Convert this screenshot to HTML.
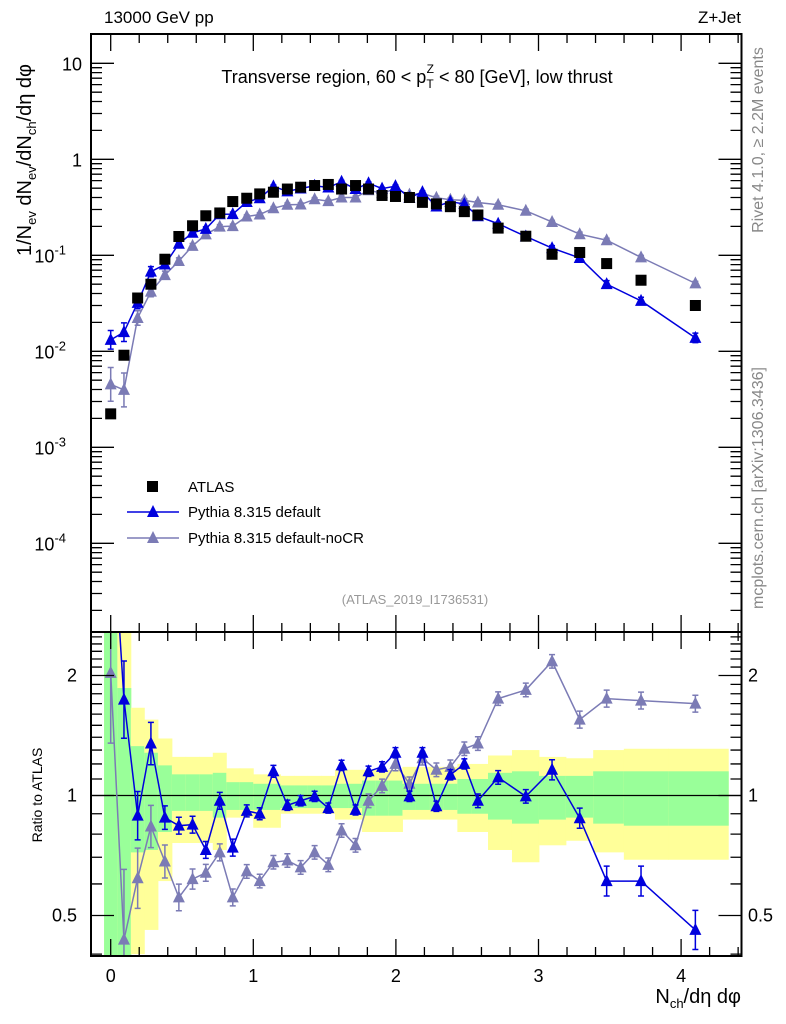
<!DOCTYPE html>
<html><head><meta charset="utf-8"><style>
html,body{margin:0;padding:0;background:#fff;}
svg{display:block;font-family:"Liberation Sans",Arial,sans-serif;}
</style></head><body>
<svg id="chart" width="786" height="1024" viewBox="0 0 786 1024" xmlns="http://www.w3.org/2000/svg">
<defs>
<clipPath id="clipMain"><rect x="91" y="34" width="651" height="598"/></clipPath>
<clipPath id="clipRatio"><rect x="91" y="632" width="651" height="324"/></clipPath>
</defs>
<g id="bands" clip-path="url(#clipRatio)"></g>
<g id="ratioLines" clip-path="url(#clipRatio)"></g>
<g id="mainLines" clip-path="url(#clipMain)"></g>
<g id="axes"></g>
<text x="104" y="23" font-size="17">13000 GeV pp</text>
<text x="741" y="23" font-size="17" text-anchor="end">Z+Jet</text>
<text x="417" y="83" font-size="18" text-anchor="middle">Transverse region, 60 &lt; p<tspan font-size="12" dy="5">T</tspan><tspan font-size="12" dx="-7" dy="-15">Z</tspan><tspan dy="10"> &lt; 80 [GeV], low thrust</tspan></text>
<text transform="translate(31,160) rotate(-90)" font-size="20" text-anchor="middle">1/N<tspan font-size="13" dy="5">ev</tspan><tspan dy="-5"> dN</tspan><tspan font-size="13" dy="5">ev</tspan><tspan dy="-5">/dN</tspan><tspan font-size="13" dy="5">ch</tspan><tspan dy="-5">/dη dφ</tspan></text>
<text transform="translate(42,795) rotate(-90)" font-size="14" text-anchor="middle">Ratio to ATLAS</text>
<text x="741" y="1003" font-size="20" text-anchor="end">N<tspan font-size="13" dy="5">ch</tspan><tspan dy="-5">/dη dφ</tspan></text>
<text transform="translate(763,140) rotate(-90)" font-size="16" fill="#888" text-anchor="middle">Rivet 4.1.0, ≥ 2.2M events</text>
<text transform="translate(763,488) rotate(-90)" font-size="16" fill="#888" text-anchor="middle">mcplots.cern.ch [arXiv:1306.3436]</text>
<text x="415" y="604" font-size="13" fill="#999" text-anchor="middle">(ATLAS_2019_I1736531)</text>
<g>
<rect x="147" y="481" width="11" height="11" fill="#000"/>
<text x="188" y="492" font-size="15">ATLAS</text>
<line x1="127" y1="512" x2="179" y2="512" stroke="#0000dd" stroke-width="1.5"/>
<polygon points="153,505 147,517 159,517" fill="#0000dd"/>
<text x="188" y="517" font-size="15">Pythia 8.315 default</text>
<line x1="127" y1="538" x2="179" y2="538" stroke="#7b7bb5" stroke-width="1.5"/>
<polygon points="153,531 147,543 159,543" fill="#7b7bb5"/>
<text x="188" y="543" font-size="15">Pythia 8.315 default-noCR</text>
</g>
</svg>
<script>
const xVals = [0,0.093,0.189,0.282,0.38,0.478,0.574,0.667,0.765,0.856,0.954,1.045,1.141,1.239,1.332,1.43,1.526,1.619,1.717,1.808,1.903,1.997,2.095,2.186,2.284,2.382,2.48,2.575,2.717,2.911,3.095,3.289,3.478,3.719,4.1];
const atlasVals = [0.00223,0.0091,0.0359,0.050,0.091,0.157,0.203,0.258,0.276,0.363,0.393,0.436,0.454,0.49,0.512,0.533,0.547,0.49,0.533,0.49,0.42,0.41,0.40,0.356,0.343,0.321,0.285,0.263,0.192,0.158,0.1025,0.107,0.082,0.055,0.030];
const defaultRatio = [5.9,1.74,0.89,1.35,0.88,0.84,0.845,0.73,0.97,0.74,0.915,0.90,1.15,0.945,0.97,0.995,0.93,1.19,0.92,1.15,1.18,1.28,0.995,1.28,0.94,1.127,1.2,0.97,1.11,0.995,1.16,0.877,0.61,0.61,0.46];
const noCRRatio = [2.03,0.435,0.62,0.836,0.683,0.555,0.617,0.64,0.72,0.555,0.645,0.61,0.68,0.687,0.66,0.72,0.67,0.817,0.75,0.97,1.057,1.2,1.07,1.24,1.16,1.18,1.31,1.35,1.75,1.84,2.17,1.55,1.75,1.73,1.70];
const defaultErr = [0.25,0.25,0.15,0.13,0.07,0.05,0.05,0.05,0.05,0.05,0.035,0.035,0.035,0.03,0.03,0.03,0.03,0.03,0.03,0.03,0.03,0.03,0.03,0.03,0.03,0.03,0.03,0.04,0.04,0.04,0.06,0.06,0.09,0.09,0.12];
const noCRErr = [0.5,0.5,0.19,0.13,0.1,0.08,0.06,0.05,0.05,0.05,0.04,0.04,0.04,0.04,0.04,0.04,0.04,0.04,0.04,0.04,0.04,0.04,0.04,0.04,0.04,0.04,0.04,0.04,0.04,0.04,0.04,0.05,0.05,0.05,0.05];
const yellowUp = [3,3,1.66,1.55,1.39,1.25,1.25,1.25,1.28,1.17,1.17,1.13,1.13,1.12,1.12,1.12,1.12,1.16,1.16,1.16,1.16,1.16,1.18,1.18,1.18,1.18,1.2,1.2,1.26,1.3,1.25,1.24,1.3,1.31,1.31];
const greenUp = [3,1.86,1.33,1.28,1.19,1.13,1.13,1.13,1.14,1.08,1.08,1.07,1.07,1.06,1.06,1.06,1.06,1.07,1.07,1.09,1.09,1.09,1.07,1.07,1.07,1.07,1.1,1.1,1.14,1.15,1.12,1.12,1.15,1.15,1.15];
const greenDn = [0.3,0.3,0.72,0.73,0.81,0.915,0.915,0.915,0.88,0.92,0.92,0.92,0.92,0.93,0.93,0.93,0.93,0.93,0.93,0.89,0.89,0.89,0.92,0.92,0.92,0.92,0.9,0.9,0.87,0.85,0.87,0.88,0.85,0.84,0.84];
const yellowDn = [0.3,0.3,0.4,0.46,0.61,0.76,0.76,0.76,0.73,0.88,0.88,0.83,0.83,0.9,0.9,0.9,0.9,0.87,0.87,0.81,0.81,0.81,0.87,0.87,0.87,0.87,0.81,0.81,0.73,0.68,0.75,0.77,0.72,0.69,0.69];
const mainTickLabels = ["10","1","10","10","10","10"];
const ratioTickVals = [0.5,1,2];
const xTickVals = [0,1,2,3,4];

const NS="http://www.w3.org/2000/svg";
const X0=110.7, XS=142.6;
function xp(v){return X0+v*XS;}
function yMain(v){return 159.3-96*Math.log10(v);}
function yRatio(v){return 795.5-120*Math.log2(v);}
function mk(tag,attrs,parent){const e=document.createElementNS(NS,tag);for(const k in attrs)e.setAttribute(k,attrs[k]);parent.appendChild(e);return e;}
const axes=document.getElementById('axes');
const bands=document.getElementById('bands');
const rl=document.getElementById('ratioLines');
const ml=document.getElementById('mainLines');
const BLUE="#0000dd", PURP="#7b7bb5";

for(let i=0;i<xVals.length;i++){
  const l = i===0 ? xVals[0]-(xVals[1]-xVals[0])/2 : (xVals[i-1]+xVals[i])/2;
  const r = i===xVals.length-1 ? xVals[i]+(xVals[i]-xVals[i-1])/2+0.04 : (xVals[i]+xVals[i+1])/2;
  const y=mk('rect',{x:xp(l),y:yRatio(yellowUp[i]),width:xp(r)-xp(l)+0.5,height:yRatio(yellowDn[i])-yRatio(yellowUp[i]),fill:"#ffff99"},bands);
  
  
  const g=mk('rect',{x:xp(l),y:yRatio(greenUp[i]),width:xp(r)-xp(l)+0.5,height:yRatio(greenDn[i])-yRatio(greenUp[i]),fill:"#99ff99"},bands);
  
  
}
const one=mk('line',{x1:91,x2:742,y1:yRatio(1),y2:yRatio(1),stroke:"#000","stroke-width":1.3},rl);



function tri(cx,cy,col,parent,name){
  const p=mk('polygon',{points:`${cx},${cy-7} ${cx-6},${cy+5} ${cx+6},${cy+5}`,fill:col},parent);
  
  
}
function errbar(cx,y1,y2,col,parent){
  const e=mk('path',{d:`M${cx},${y1}V${y2}M${cx-3},${y1}h6M${cx-3},${y2}h6`,stroke:col,"stroke-width":1.5,fill:"none"},parent);
  
  
}
function series(ratio,err,col,name){
  let d="";
  ratio.forEach((r,i)=>{d+=(i?"L":"M")+xp(xVals[i])+","+yRatio(r);});
  const pl=mk('path',{d:d,stroke:col,"stroke-width":1.5,fill:"none"},rl);
  
  
  ratio.forEach((r,i)=>{
    errbar(xp(xVals[i]),yRatio(r*(1+err[i])),yRatio(r/(1+err[i])),col,rl);
    tri(xp(xVals[i]),yRatio(r),col,rl,name+'-ratio-point');
  });
  d="";
  ratio.forEach((r,i)=>{d+=(i?"L":"M")+xp(xVals[i])+","+yMain(r*atlasVals[i]);});
  const ln=mk('path',{d:d,stroke:col,"stroke-width":1.5,fill:"none"},ml);
  
  
  ratio.forEach((r,i)=>{
    const v=r*atlasVals[i];
    errbar(xp(xVals[i]),yMain(v*(1+err[i])),yMain(v/(1+err[i])),col,ml);
    tri(xp(xVals[i]),yMain(v),col,ml,name+'-point');
  });
}
series(noCRRatio,noCRErr,PURP,'pythia-nocr');
series(defaultRatio,defaultErr,BLUE,'pythia-default');
atlasVals.forEach((v,i)=>{
  const s=mk('rect',{x:xp(xVals[i])-5.5,y:yMain(v)-5.5,width:11,height:11,fill:"#000"},ml);
  
  
});

const f1=mk('rect',{x:91,y:34,width:650.5,height:598,fill:"none",stroke:"#000","stroke-width":2},axes);


const f2=mk('rect',{x:91,y:632,width:650.5,height:324,fill:"none",stroke:"#000","stroke-width":2},axes);



let tp="";
for(let v=-0.1;v<=4.41;v+=0.1){
  const vv=Math.round(v*10)/10;
  if(Math.abs(vv*5-Math.round(vv*5))>1e-6)continue;
  const major=Math.abs(vv-Math.round(vv))<1e-6;
  const L=major?17:9, x=xp(vv);
  tp+=`M${x},34v${L}M${x},632v${-L}M${x},632v${L}M${x},956v${-L}`;
}
for(let e=-5;e<=1;e++){
  for(let m=1;m<=9;m++){
    const v=m*Math.pow(10,e), y=yMain(v);
    if(y<34||y>632)continue;
    const L=m===1?23:11;
    tp+=`M91,${y}h${L}M741.5,${y}h${-L}`;
  }
}
for(let k=4;k<=25;k++){
  const v=k/10, y=yRatio(v);
  if(y<632||y>956)continue;
  const L=(k===5||k===10||k===20)?23:11;
  tp+=`M91,${y}h${L}M741.5,${y}h${-L}`;
}
const tk=mk('path',{d:tp,stroke:"#000","stroke-width":1.3,fill:"none"},axes);



xTickVals.forEach(v=>{
  const t=mk('text',{x:xp(v),y:982,"font-size":18,"text-anchor":"middle"},axes);
  t.textContent=String(v);
  
  
});
mainTickLabels.forEach((lab,i)=>{
  const e=1-i, y=yMain(Math.pow(10,e));
  const t=mk('text',{x:82,y:y+7,"font-size":18,"text-anchor":"end"},axes);
  
  
  if(e>=0){t.textContent=lab;}
  else{
    t.setAttribute('x',66);
    t.textContent=lab;
    const s=mk('tspan',{"font-size":13,dy:-8},t);
    s.textContent=String(e);
  }
});
ratioTickVals.forEach(v=>{
  const y=yRatio(v);
  const t1=mk('text',{x:77,y:y+6,"font-size":18,"text-anchor":"end"},axes);
  t1.textContent=String(v);
  
  
  const t2=mk('text',{x:748,y:y+6,"font-size":18},axes);
  t2.textContent=String(v);
  
  
});
</script>
</body></html>
